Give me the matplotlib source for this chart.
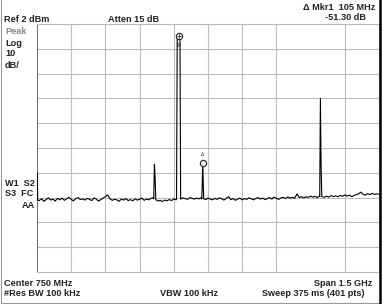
import numpy as np
import matplotlib
matplotlib.use("Agg")
import matplotlib.pyplot as plt
from matplotlib.lines import Line2D

plt.rcParams['font.family'] = ['Liberation Sans', 'DejaVu Sans']

# 扫描设置 (MHz / dBm)
start_mhz = 0
stop_mhz = 1500
ref_dbm = 2
db_per_div = 10

# 噪声底, 每 10 MHz 一个点
noise_freq = np.arange(0, 1501, 10)
noise_db = [
    -58.0, -69.2, -68.4, -69.5, -68.8, -68.1, -69.0, -68.6, -69.4, -68.3, -68.9,
    -68.2, -69.1, -68.5, -67.9, -68.7, -69.3, -68.4, -68.0, -68.8, -68.5,
    -69.0, -68.3, -68.7, -69.2, -68.1, -68.6, -69.4, -68.8, -68.2, -67.6,
    -66.9, -68.5, -69.1, -68.7, -68.9, -69.5, -68.6, -69.0, -68.4, -69.2,
    -68.8, -69.3, -68.5, -69.0, -68.7, -68.2, -69.1, -68.6, -68.9, -68.3,
    -68.0, -68.8, -69.4, -69.1, -69.6, -69.0, -69.3, -68.8, -69.2, -68.5,
    -68.9, -68.4, -68.6, -68.1, -68.4, -68.7, -68.0, -68.3, -68.6, -68.2,
    -68.5, -68.0, -68.4, -68.8, -68.2, -68.6, -68.9, -68.3, -68.7, -68.1,
    -68.5, -69.0, -68.3, -67.6, -68.8, -68.4, -69.1, -68.6, -68.2, -68.9,
    -68.4, -68.7, -68.1, -68.5, -68.9, -68.3, -68.0, -68.6, -68.2, -68.8,
    -68.4, -68.0, -68.6, -67.8, -68.3, -68.7, -68.1, -67.9, -68.4, -67.7,
    -68.2, -67.9, -68.3, -66.5, -68.0, -67.6, -68.1, -67.7, -67.9, -67.4,
    -67.8, -67.5, -68.0, -67.3, -67.6, -67.9, -67.4, -67.8, -67.2, -67.6,
    -67.3, -67.7, -67.1, -67.5, -66.9, -67.4, -67.0, -67.6, -67.2, -66.8,
    -66.5, -65.8, -66.6, -67.0, -66.4, -66.8, -66.3, -66.7, -66.5, -66.6,
]

# 杂散/信号
edge_freq = [1, 3]
edge_db = [-58.0, -69.0]
spur1_freq = [512, 515, 518, 521]
spur1_db = [-68.5, -54.5, -60.0, -68.8]
main_freq = [612, 615, 627, 630]
main_db = [-68.6, -3.0, -3.0, -68.4]
mkr_freq = [723, 727, 731]
mkr_db = [-68.6, -54.0, -68.4]
spur2_freq = [1240, 1243, 1246, 1249]
spur2_db = [-67.6, -28.0, -55.0, -67.4]

mkr1 = (622, -3.0)
mkr2 = (727, -54.0)

# 合并曲线
spurs = [(edge_freq, edge_db), (spur1_freq, spur1_db), (main_freq, main_db),
         (mkr_freq, mkr_db), (spur2_freq, spur2_db)]
keep = np.ones(len(noise_freq), dtype=bool)
for f, d in spurs:
    keep &= ~((noise_freq > f[0]) & (noise_freq < f[-1]))
freq = list(noise_freq[keep])
level = list(np.array(noise_db)[keep])
for f, d in spurs:
    freq += f
    level += d
order = np.argsort(freq)
freq = np.array(freq)[order]
level = np.array(level)[order]

W, H = 383, 304
fig = plt.figure(figsize=(W / 100, H / 100), dpi=100)


def fx(px):
    return px / W


def fy(py):
    return 1 - py / H


ax = fig.add_axes([fx(37), fy(272), fx(379) - fx(37), fy(24) - fy(272)])
ax.set_xlim(start_mhz, stop_mhz)
ax.set_ylim(ref_dbm - 10 * db_per_div, ref_dbm)

# 网格 (1200 MHz 那条在原图里没有)
for i in range(1, 10):
    if i == 8:
        continue
    ax.axvline(i * 150, color="#bdbdbd", lw=0.8, zorder=1)
for i in range(1, 10):
    ax.axhline(ref_dbm - i * db_per_div, color="#bdbdbd", lw=0.8, zorder=1)

ax.plot(freq, level, color="black", lw=0.8, zorder=3)

ax.plot(*mkr1, marker="o", ms=4.5, mfc="white", mec="#333333", mew=0.9, zorder=4)
ax.plot(*mkr1, marker="+", ms=2.5, color="#333333", mew=0.6, zorder=5)
ax.text(mkr1[0], mkr1[1] - 3.5, "1R", fontsize=3.5, ha="center", va="center", color="#333333", zorder=5)
ax.plot(*mkr2, marker="o", ms=4.5, mfc="white", mec="#333333", mew=0.9, zorder=4)
ax.text(mkr2[0], mkr2[1] + 3.4, "Δ", fontsize=3.5, ha="center", va="center", color="#333333", zorder=5)

ax.set_xticks([])
ax.set_yticks([])
for s in ax.spines.values():
    s.set_color("#bbbbbb")
    s.set_linewidth(0.8)
ax.spines["left"].set_color("#777777")

# 外框
fig.add_artist(Line2D([fx(1.5), fx(1.5)], [0, 1], color="#999999", lw=0.8))
fig.add_artist(Line2D([fx(1.5), fx(380)], [fy(302.5), fy(302.5)], color="#999999", lw=0.8))
fig.add_artist(Line2D([fx(380), fx(380)], [0, 1], color="black", lw=1.8))

tc = "#222222"
fs = 6.6
fw = "bold"
fig.text(fx(4), fy(19), "Ref 2 dBm", fontsize=fs, color=tc, va="center", weight=fw)
fig.text(fx(108), fy(19), "Atten 15 dB", fontsize=fs, color=tc, va="center", weight=fw)
fig.text(fx(375), fy(7), "Δ Mkr1  105 MHz", fontsize=fs, color=tc, va="center", ha="right", weight=fw)
fig.text(fx(366), fy(18), "-51.30 dB", fontsize=fs, color=tc, va="center", ha="right", weight=fw)

fig.text(fx(5), fy(32), "Peak", fontsize=fs, color="#888888", va="center", weight=fw)
fig.text(fx(5), fy(43), "Log", fontsize=fs, color=tc, va="center", weight=fw)
fig.text(fx(5), fy(54), "10", fontsize=fs, color=tc, va="center", weight=fw)
fig.text(fx(5), fy(65), "dB/", fontsize=fs, color=tc, va="center", weight=fw)
fig.text(fx(5), fy(183), "W1  S2", fontsize=fs, color=tc, va="center", weight=fw)
fig.text(fx(5), fy(194), "S3  FC", fontsize=fs, color=tc, va="center", weight=fw)
fig.text(fx(35), fy(205), "AA", fontsize=fs, color=tc, va="center", ha="right", weight=fw)

fig.text(fx(4), fy(283), "Center 750 MHz", fontsize=fs, color=tc, va="center", weight=fw)
fig.text(fx(372), fy(283), "Span 1.5 GHz", fontsize=fs, color=tc, va="center", ha="right", weight=fw)
fig.text(fx(4), fy(294), "#Res BW 100 kHz", fontsize=fs, color=tc, va="center", weight=fw)
fig.text(fx(160), fy(294), "VBW 100 kHz", fontsize=fs, color=tc, va="center", weight=fw)
fig.text(fx(364), fy(294), "Sweep 375 ms (401 pts)", fontsize=fs, color=tc, va="center", ha="right", weight=fw)

fig.savefig("out.png", dpi=100)
